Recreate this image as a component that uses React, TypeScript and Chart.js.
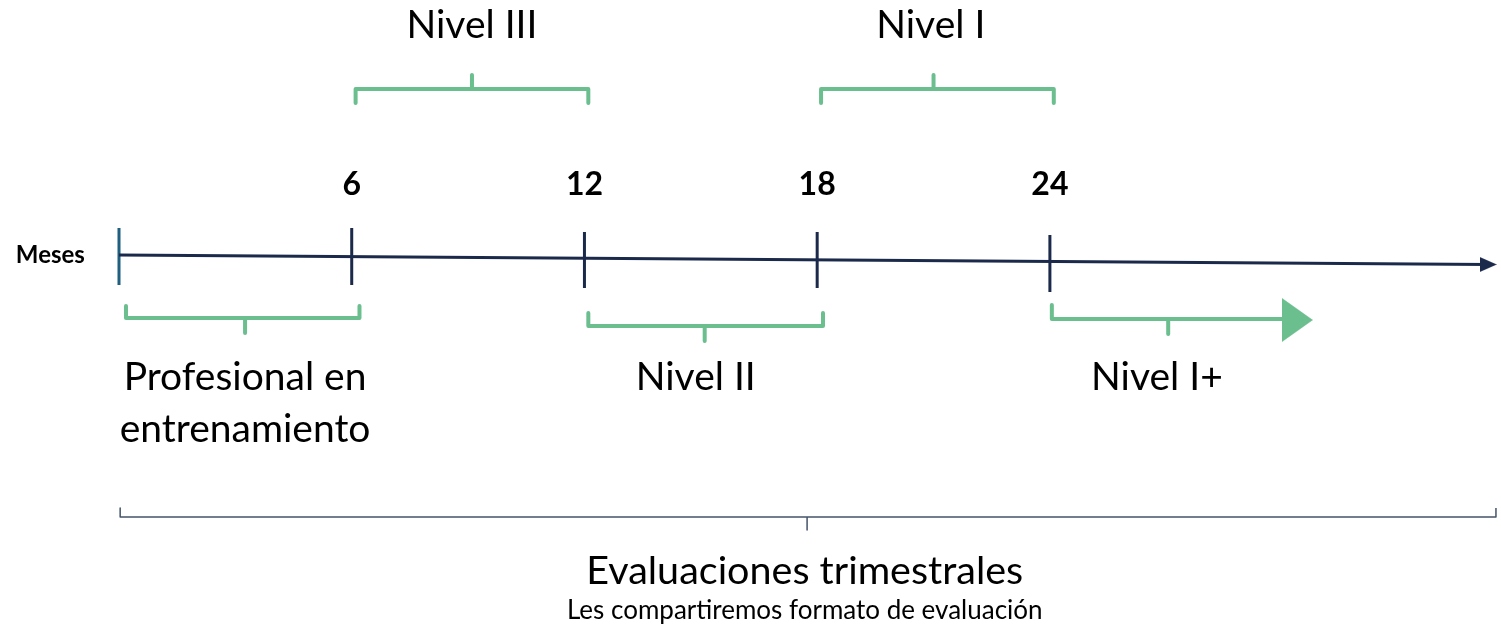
import React, { useEffect, useRef } from "react";
import { Chart, registerables } from "chart.js";

Chart.register(...registerables);

// ---- data (x in months, y in page rows from the top) ----
const monthTicks = [0, 6, 12, 18, 24];
const tickLabels = ["", "6", "12", "18", "24"];
const tickTop = [228, 228, 232, 232, 235];
const tickBottom = [285, 285, 288, 288, 292];
const tickColors = ["#1f5f80", "#1b2a4a", "#1b2a4a", "#1b2a4a", "#1b2a4a"];

const axisX = [0, 35.3];
const axisY = [255, 264.5];

const bracketLabels = ["Nivel III", "Nivel I", "Profesional en\nentrenamiento", "Nivel II", "Nivel I+"];
const bracketStart = [6.1, 18.1, 0.18, 12.1, 24.05];
const bracketEnd = [12.1, 24.1, 6.2, 18.15, 30.2];
const bracketMid = [9.1, 21.0, 3.25, 15.1, 27.05];
const bracketBarY = [89, 89, 318, 326, 319];
const bracketEndY = [103, 103, 306, 313, 305];
const bracketTipY = [75, 75, 333, 341, 334];
const bracketHasRightEnd = [true, true, true, true, false];
const bracketLabelX = [9.1, 20.93, 3.25, 14.87, 26.76];
const bracketLabelY = [25, 25, 377, 377, 377];

const arrowIPlusX = 30.38;
const arrowIPlusY = 320;

const bigBraceStart = 0.03;
const bigBraceEnd = 35.5;
const bigBraceMid = 17.74;
const bigBraceBarY = 517;
const bigBraceEndY = 508;
const bigBraceTipY = 530;

const mesesLabel = "Meses";
const mesesX = -1.77;
const footerTitle = "Evaluaciones trimestrales";
const footerSub = "Les compartiremos formato de evaluación";
const footerX = 17.68;
const footerTitleY = 571;
const footerSubY = 611;
const tickLabelY = 185;

const GREEN = "#6bbe8e";
const NAVY = "#1b2a4a";
const FONT = "Lato, 'Open Sans', sans-serif";

function makeArrow(w: number, h: number, color: string) {
  const c = document.createElement("canvas");
  c.width = w;
  c.height = h;
  const g = c.getContext("2d")!;
  g.fillStyle = color;
  g.beginPath();
  g.moveTo(0, 0);
  g.lineTo(w, h / 2);
  g.lineTo(0, h);
  g.closePath();
  g.fill();
  return c;
}

const textPlugin = {
  id: "diagramText",
  afterDatasetsDraw(chart: any) {
    const ctx = chart.ctx as CanvasRenderingContext2D;
    const xs = chart.scales.x;
    const ys = chart.scales.y;
    ctx.save();
    ctx.textAlign = "center";
    ctx.textBaseline = "middle";
    ctx.fillStyle = "#000000";

    ctx.font = `bold 24px ${FONT}`;
    ctx.fillText(mesesLabel, xs.getPixelForValue(mesesX), ys.getPixelForValue(axisY[0]));

    ctx.font = `bold 32px ${FONT}`;
    monthTicks.forEach((m, i) => {
      if (tickLabels[i]) ctx.fillText(tickLabels[i], xs.getPixelForValue(m), ys.getPixelForValue(tickLabelY));
    });

    ctx.font = `39px ${FONT}`;
    bracketLabels.forEach((lbl, i) => {
      const lines = lbl.split("\n");
      lines.forEach((ln, j) => {
        ctx.fillText(ln, xs.getPixelForValue(bracketLabelX[i]), ys.getPixelForValue(bracketLabelY[i] + j * 52));
      });
    });

    ctx.font = `39.5px ${FONT}`;
    ctx.fillText(footerTitle, xs.getPixelForValue(footerX), ys.getPixelForValue(footerTitleY));
    ctx.font = `26px ${FONT}`;
    ctx.fillText(footerSub, xs.getPixelForValue(footerX), ys.getPixelForValue(footerSubY));
    ctx.restore();
  },
};

export default function App() {
  const ref = useRef<HTMLCanvasElement>(null);

  useEffect(() => {
    if (!ref.current) return;
    const mainArrow = makeArrow(17, 15, NAVY);
    const greenArrow = makeArrow(31, 44, GREEN);

    const datasets: any[] = [];
    const base = { type: "line", clip: false, pointRadius: 0, fill: false, tension: 0 };

    // main axis with arrowhead
    datasets.push({
      ...base,
      data: axisX.map((x, i) => ({ x, y: axisY[i] })),
      borderColor: NAVY,
      borderWidth: 3,
      pointRadius: [0, 1],
      pointStyle: [false, mainArrow],
    });

    // ticks
    monthTicks.forEach((m, i) => {
      datasets.push({
        ...base,
        data: [
          { x: m, y: tickTop[i] },
          { x: m, y: tickBottom[i] },
        ],
        borderColor: tickColors[i],
        borderWidth: 3,
      });
    });

    // green brackets
    bracketLabels.forEach((_, i) => {
      const pts = [
        { x: bracketStart[i], y: bracketEndY[i] },
        { x: bracketStart[i], y: bracketBarY[i] },
        { x: bracketMid[i], y: bracketBarY[i] },
        { x: bracketMid[i], y: bracketTipY[i] },
        { x: bracketMid[i], y: bracketBarY[i] },
        { x: bracketEnd[i], y: bracketBarY[i] },
      ];
      if (bracketHasRightEnd[i]) pts.push({ x: bracketEnd[i], y: bracketEndY[i] });
      datasets.push({
        ...base,
        data: pts,
        borderColor: GREEN,
        borderWidth: 4,
        borderJoinStyle: "round",
        borderCapStyle: "round",
      });
    });

    // Nivel I+ arrow head
    datasets.push({
      type: "scatter",
      clip: false,
      data: [{ x: arrowIPlusX, y: arrowIPlusY }],
      pointStyle: greenArrow,
      pointRadius: 1,
      showLine: false,
    });

    // big bottom brace
    datasets.push({
      ...base,
      data: [
        { x: bigBraceStart, y: bigBraceEndY },
        { x: bigBraceStart, y: bigBraceBarY },
        { x: bigBraceMid, y: bigBraceBarY },
        { x: bigBraceMid, y: bigBraceTipY },
        { x: bigBraceMid, y: bigBraceBarY },
        { x: bigBraceEnd, y: bigBraceBarY },
        { x: bigBraceEnd, y: bigBraceEndY },
      ],
      borderColor: "#44546a",
      borderWidth: 1.5,
      borderJoinStyle: "round",
    });

    const chart = new Chart(ref.current, {
      type: "line",
      data: { datasets },
      options: {
        animation: false,
        responsive: true,
        maintainAspectRatio: false,
        layout: { padding: 0, autoPadding: false },
        events: [],
        plugins: { legend: { display: false }, tooltip: { enabled: false } },
        scales: {
          x: { type: "linear", min: -3.068, max: 35.63, display: false },
          y: { type: "linear", min: 0, max: 625, reverse: true, display: false },
        },
      },
      plugins: [textPlugin],
    } as any);
    return () => chart.destroy();
  }, []);

  return (
    <div style={{ position: "absolute", left: 0, top: 0, width: 1501, height: 625, background: "#ffffff" }}>
      <canvas ref={ref} />
    </div>
  );
}
